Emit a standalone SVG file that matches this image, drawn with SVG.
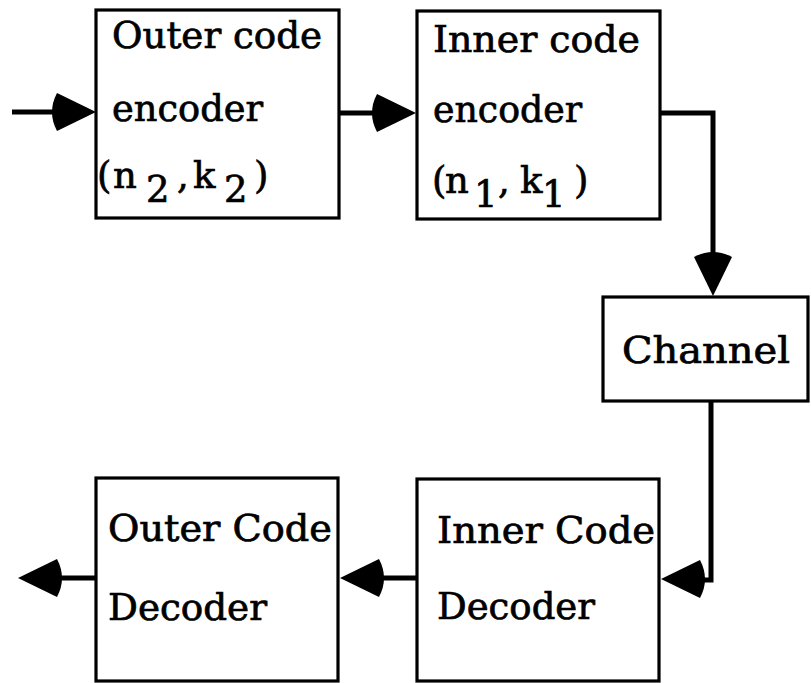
<svg xmlns="http://www.w3.org/2000/svg" width="811" height="683" viewBox="0 0 811 683">
  <style>
    .box { fill: #ffffff; stroke: #000000; stroke-width: 3.2; }
    .wire { fill: none; stroke: #000000; stroke-width: 5; stroke-linejoin: miter; stroke-linecap: butt; }
    .head { fill: #000000; stroke: none; }
    .lbl { font-family: "DejaVu Serif", "Liberation Serif", serif; font-size: 37px; fill: #000000; stroke: #000000; stroke-width: 0.7; }
  </style>
  <defs>
    <!-- arrowhead pointing right, tip at origin, rounded back -->
    <path id="ah" d="M0,0 L-39,-19 Q-49,0 -39,19 Z"/>
  </defs>

  <g id="connectors">
    <!-- input -> outer encoder -->
    <line class="wire" x1="12" y1="112" x2="60" y2="112"/>
    <use href="#ah" class="head" transform="translate(96,112)"/>
    <!-- outer encoder -> inner encoder -->
    <line class="wire" x1="333" y1="113" x2="380" y2="113"/>
    <use href="#ah" class="head" transform="translate(416,113)"/>
    <!-- inner encoder -> channel -->
    <polyline class="wire" points="655,113 713,113 713,260"/>
    <use href="#ah" class="head" transform="translate(713,296) rotate(90)"/>
    <!-- channel -> inner decoder -->
    <polyline class="wire" points="711,401 711,580 698,580"/>
    <use href="#ah" class="head" transform="translate(661,579) rotate(180)"/>
    <!-- inner decoder -> outer decoder -->
    <line class="wire" x1="417" y1="578" x2="375" y2="578"/>
    <use href="#ah" class="head" transform="translate(340,578) rotate(180)"/>
    <!-- outer decoder -> output -->
    <line class="wire" x1="96" y1="578" x2="55" y2="578"/>
    <use href="#ah" class="head" transform="translate(18,578) rotate(180)"/>
  </g>

  <g id="outer-encoder">
    <rect class="box" x="96" y="10" width="243" height="208"/>
    <text class="lbl" x="112" y="48" textLength="210" lengthAdjust="spacingAndGlyphs">Outer code</text>
    <text class="lbl" x="112" y="121" textLength="151" lengthAdjust="spacingAndGlyphs">encoder</text>
    <text class="lbl" y="188"><tspan x="97">(</tspan><tspan x="113">n</tspan><tspan x="146" y="202">2</tspan><tspan x="177" y="188">,</tspan><tspan x="193">k</tspan><tspan x="224" y="202">2</tspan><tspan x="254" y="188">)</tspan></text>
  </g>

  <g id="inner-encoder">
    <rect class="box" x="417" y="11" width="243" height="208"/>
    <text class="lbl" x="433" y="52" textLength="207" lengthAdjust="spacingAndGlyphs">Inner code</text>
    <text class="lbl" x="433" y="122" textLength="149" lengthAdjust="spacingAndGlyphs">encoder</text>
    <text class="lbl" y="193"><tspan x="432">(</tspan><tspan x="445">n</tspan><tspan x="474" y="207">1</tspan><tspan x="498" y="193">,</tspan><tspan x="520">k</tspan><tspan x="542" y="207">1</tspan><tspan x="574" y="193">)</tspan></text>
  </g>

  <g id="channel">
    <rect class="box" x="603" y="297" width="205" height="104"/>
    <text class="lbl" x="622" y="363" textLength="168" lengthAdjust="spacingAndGlyphs">Channel</text>
  </g>

  <g id="inner-decoder">
    <rect class="box" x="417" y="479" width="242" height="202"/>
    <text class="lbl" x="437" y="543" textLength="218" lengthAdjust="spacingAndGlyphs">Inner Code</text>
    <text class="lbl" x="437" y="619" textLength="158" lengthAdjust="spacingAndGlyphs">Decoder</text>
  </g>

  <g id="outer-decoder">
    <rect class="box" x="96" y="478" width="242" height="203"/>
    <text class="lbl" x="108" y="541" textLength="224" lengthAdjust="spacingAndGlyphs">Outer Code</text>
    <text class="lbl" x="108" y="620" textLength="159" lengthAdjust="spacingAndGlyphs">Decoder</text>
  </g>
</svg>
